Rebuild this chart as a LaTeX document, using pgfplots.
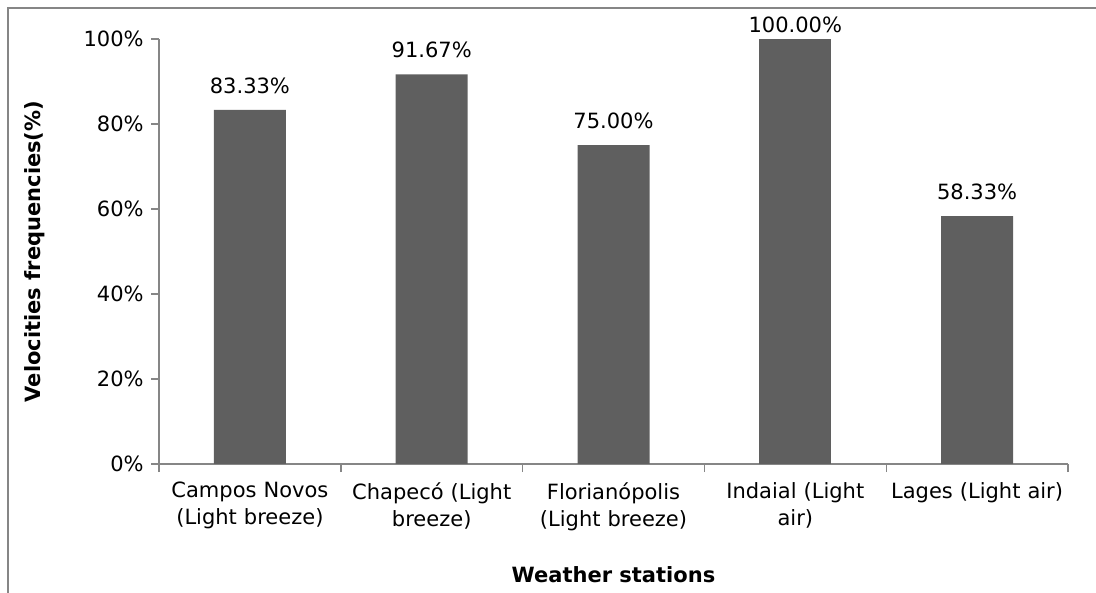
\documentclass[border=0pt]{standalone}
\usepackage{pgfplots}
\pgfplotsset{compat=1.18}
\usepackage{fontspec}
\setmainfont{DejaVu Sans}
\definecolor{barc}{RGB}{95,95,95}
\definecolor{axc}{RGB}{134,134,134}
\definecolor{framec}{RGB}{134,134,134}
\begin{document}
\fontsize{10.5pt}{13.5pt}\selectfont
\begin{tikzpicture}
\useasboundingbox (-79.5pt,-64.5pt) rectangle (468.5pt,232pt);
\draw[framec, line width=0.6pt] (-75.5pt,-70pt) -- (-75.5pt,228pt) -- (475pt,228pt);
\begin{axis}[
  at={(0,0)}, anchor=origin,
  scale only axis,
  width=454.5pt, height=212.5pt,
  xmin=0.5, xmax=5.5, ymin=0, ymax=100,
  axis lines*=left,
  axis line style={axc, line width=0.7pt},
  ybar, bar width=36pt, bar shift=0pt,
  xtick={1,2,3,4,5},
  xticklabels={{Campos Novos\\(Light breeze)},{Chapecó (Light\\breeze)},{Florianópolis\\(Light breeze)},{Indaial (Light\\air)},{Lages (Light air)}},
  xticklabel style={align=center, text width=90pt, font=\fontsize{10.5pt}{13.5pt}\selectfont, yshift=-1.5pt},
  minor xtick={0.5,1.5,2.5,3.5,4.5,5.5},
  major x tick style={draw=none},
  minor x tick style={axc, line width=0.7pt},
  minor tick length=4pt,
  ytick={0,20,40,60,80,100},
  yticklabel={\pgfmathprintnumber{\tick}\%},
  y tick style={axc, line width=0.7pt},
  major tick length=4pt,
  tick align=outside,
  /pgf/number format/assume math mode=true,
  yticklabel style={font=\fontsize{10.5pt}{13.5pt}\selectfont},
  nodes near coords={\pgfmathprintnumber[fixed, fixed zerofill, precision=2]{\pgfplotspointmeta}\%},
  nodes near coords style={font=\fontsize{10.5pt}{13.5pt}\selectfont, black},
  every axis y label/.style={at={(axis description cs:-0.1364,0.5)}, rotate=90, anchor=center},
  every axis x label/.style={at={(axis description cs:0.5,-0.2612)}, anchor=center},
  ylabel={\bfseries Velocities frequencies(\%)},
  xlabel={\bfseries Weather stations},
  clip=false,
]
\addplot[fill=barc, draw=none, nodes near coords style={yshift=4.5pt}] coordinates {(1,83.33) (2,91.67) (3,75.00) (5,58.33)};
\addplot[fill=barc, draw=none, nodes near coords style={yshift=-0.5pt}] coordinates {(4,100.00)};
\end{axis}
\end{tikzpicture}
\end{document}
